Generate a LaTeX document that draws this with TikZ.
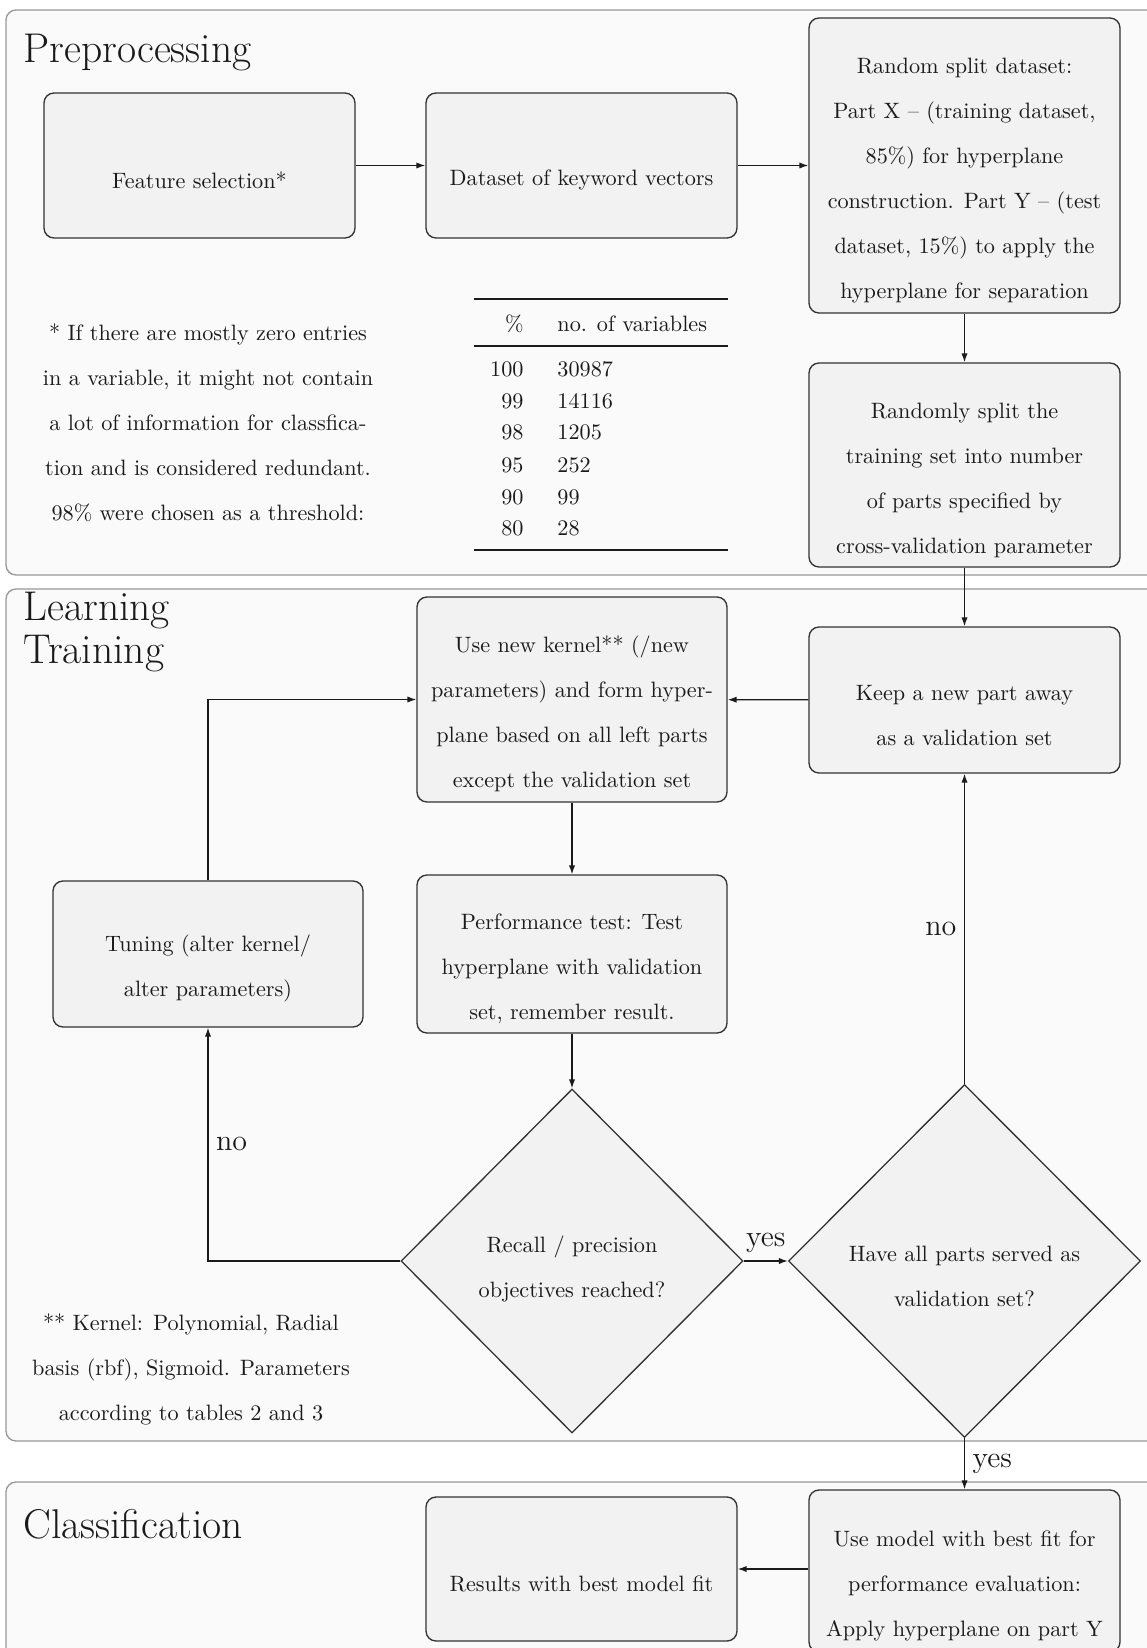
\documentclass[tikz,border=0pt]{standalone}
\usetikzlibrary{shapes.geometric,arrows.meta,calc}
\definecolor{panelfill}{HTML}{FAFAFA}
\definecolor{panelborder}{HTML}{999999}
\definecolor{boxfill}{HTML}{F2F2F2}
\definecolor{boxborder}{HTML}{333333}
\definecolor{inkcol}{HTML}{1A1A1A}
\newcommand\mystrut{\rule{0pt}{20.5pt}}
\begin{document}
\begin{tikzpicture}[x=0.45pt,y=-0.45pt,
  font=\fontsize{10}{20.25}\selectfont, text=inkcol,
  panel/.style={draw=panelborder, fill=panelfill, rounded corners=4.5pt, line width=0.6pt},
  box/.style={draw=boxborder, fill=boxfill, rounded corners=4.5pt, line width=0.6pt,
    align=center, inner sep=0pt, minimum width=139.95pt},
  dia/.style={diamond, draw=boxborder, fill=boxfill, line width=0.6pt, align=center, inner sep=0pt},
  arr/.style={-{Latex[length=4pt,width=2.8pt]}, line width=0.6pt, draw=inkcol},
  title/.style={font=\fontsize{18.7}{19.35}\selectfont, inner sep=0pt, align=left},
  lab/.style={font=\fontsize{13.5}{16}\selectfont},
  note/.style={align=center, inner sep=0pt},
  tcell/.style={inner sep=0pt, font=\fontsize{10}{12}\selectfont},
]
\useasboundingbox (0,0) rectangle (1146,1648);
\fill[white] (0,0) rectangle (1146,1648);

% panels
\draw[panel] (6,10) rectangle (1160,575);
\draw[panel] (6,589) rectangle (1160,1441);
\draw[panel] (6,1482) rectangle (1160,1670);

% titles
\node[title, anchor=base west] (tpre) at (23,63) {Preprocessing};
\node[title, anchor=north west] (tlearn) at (23,592) {Learning\\Training};
\node[title, anchor=base west] (tclass) at (23,1538) {Classification};

% preprocessing boxes
\node[box, minimum height=65.25pt] (feat) at (199.5,165.5) {\mystrut Feature selection*};
\node[box, minimum height=65.25pt] (data) at (581.5,165.5) {\mystrut Dataset of keyword vectors};
\node[box, minimum height=132.75pt] (rsplit) at (964.5,165.5) {\mystrut Random split dataset:\\
  Part X \textendash{} (training dataset,\\ 85\%) for hyperplane\\
  construction. Part Y \textendash{} (test\\ dataset, 15\%) to apply the\\
  hyperplane for separation};
\node[box, minimum height=91.8pt] (rsplit2) at (964.5,465) {\mystrut Randomly split the\\
  training set into number\\ of parts specified by\\ cross-validation parameter};

% footnote 1
\node[note] (fn1) at (208,423) {* If there are mostly zero entries\\
  in a variable, it might not contain\\ a lot of information for classfica-\\
  tion and is considered redundant.\\ 98\% were chosen as a threshold:};

% table
\draw[line width=1.1pt, draw=inkcol] (474,299) -- (728,299);
\draw[line width=0.6pt, draw=inkcol] (474,346) -- (728,346);
\draw[line width=1.1pt, draw=inkcol] (474,550) -- (728,550);
\node[tcell, anchor=base east] (h1) at (524,332) {\%};
\node[tcell, anchor=base west] (h2) at (557,332) {no. of variables};
\node[tcell, anchor=base east] (a1) at (524,377) {100};
\node[tcell, anchor=base west] (b1) at (557,377) {30987};
\node[tcell, anchor=base east] (a2) at (524,409) {99};
\node[tcell, anchor=base west] (b2) at (557,409) {14116};
\node[tcell, anchor=base east] (a3) at (524,440) {98};
\node[tcell, anchor=base west] (b3) at (557,440) {1205};
\node[tcell, anchor=base east] (a4) at (524,472) {95};
\node[tcell, anchor=base west] (b4) at (557,472) {252};
\node[tcell, anchor=base east] (a5) at (524,504) {90};
\node[tcell, anchor=base west] (b5) at (557,504) {99};
\node[tcell, anchor=base east] (a6) at (524,535) {80};
\node[tcell, anchor=base west] (b6) at (557,535) {28};

% learning boxes
\node[box, minimum height=92.25pt, minimum width=139.5pt] (usenew) at (572,699.5) {\mystrut Use new kernel** (/new\\
  parameters) and form hyper-\\ plane based on all left parts\\ except the validation set};
\node[box, minimum height=65.7pt] (keep) at (964.5,700) {\mystrut Keep a new part away\\ as a validation set};
\node[box, minimum height=71.1pt, minimum width=139.5pt] (perf) at (572,954) {\mystrut Performance test: Test\\
  hyperplane with validation\\ set, remember result.};
\node[box, minimum height=65.7pt, minimum width=139.5pt] (tuning) at (208,954) {\mystrut Tuning (alter kernel/\\ alter parameters)};
\node[dia, minimum width=153.9pt, minimum height=154.8pt] (recall) at (572,1261) {\rule{0pt}{15pt}Recall / precision\\ objectives reached?};
\node[dia, minimum width=158.4pt, minimum height=158.85pt] (haveall) at (964.5,1261) {\mystrut Have all parts served as\\ validation set?};

% footnote 2
\node[note] (fn2) at (191,1369) {** Kernel: Polynomial, Radial\\
  basis (rbf), Sigmoid. Parameters\\ according to tables 2 and 3};

% classification boxes
\node[box, minimum height=64.8pt] (results) at (581.5,1569) {\mystrut Results with best model fit};
\node[box, minimum height=72.9pt] (usemodel) at (964.5,1571) {\mystrut Use model with best fit for\\
  performance evaluation:\\ Apply hyperplane on part Y};

% connectors
\draw[arr] (feat) -- (data);
\draw[arr] (data) -- (rsplit);
\draw[arr] (rsplit) -- (rsplit2);
\draw[arr] (rsplit2) -- (keep);
\draw[arr] (keep) -- (usenew);
\draw[arr] (usenew) -- (perf);
\draw[arr] (perf) -- (recall);
\draw[arr] (recall.west) -| (tuning.south) node[lab, pos=0.75, right] (lno1) {no};
\draw[arr] (tuning.north) |- (usenew.west);
\draw[arr] (recall.east) -- (haveall.west) node[lab, midway, above] (lyes1) {yes};
\draw[arr] (haveall.north) -- (keep.south) node[lab, midway, left] (lno2) {no};
\draw[arr] (haveall.south) -- (usemodel.north) node[lab, midway, right] (lyes2) {yes};
\draw[arr] (usemodel.west |- results.east) -- (results.east);
\end{tikzpicture}
\end{document}
